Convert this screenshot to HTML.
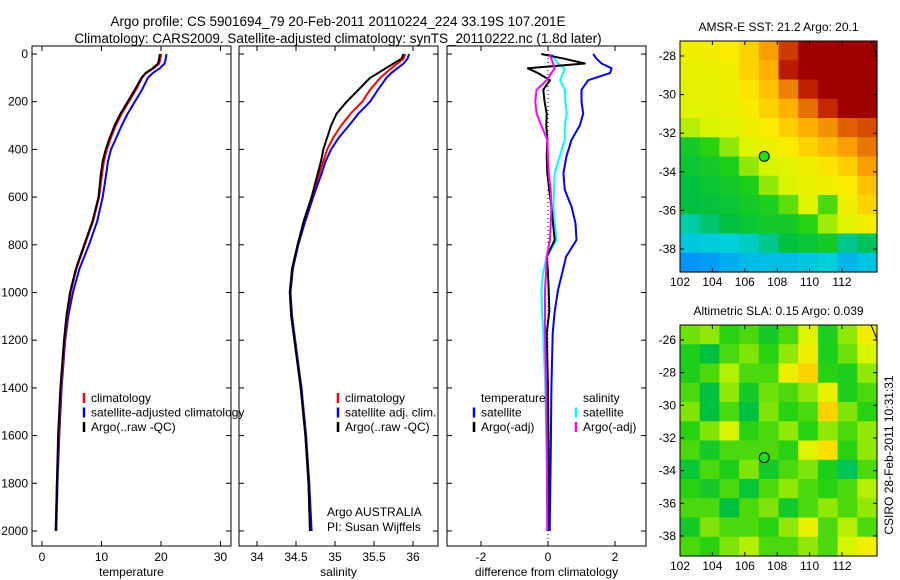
<!DOCTYPE html>
<html><head><meta charset="utf-8"><style>
body{margin:0;background:#fff}
svg{display:block;font-family:"Liberation Sans",sans-serif;font-size:12px}
</style></head><body>
<svg id="s" width="900" height="580"></svg>
<script>
const depths=[0,20,40,60,80,100,150,200,250,300,350,400,450,500,600,700,800,900,1000,1100,1200,1300,1400,1600,1800,2000];
const tempClim=[20.0,19.9,19.7,18.8,17.5,16.8,15.8,14.6,13.4,12.4,11.6,10.9,10.4,10.1,9.6,8.6,7.2,5.8,4.8,4.2,3.8,3.5,3.2,2.8,2.5,2.3];
const tempSat=[20.9,20.8,20.6,19.8,18.6,17.8,16.8,15.6,14.4,13.4,12.5,11.6,11.1,10.8,10.2,9.3,7.9,6.3,5.2,4.4,3.9,3.6,3.3,2.9,2.6,2.4];
const tempArgo=[19.8,19.7,19.5,18.6,17.4,16.7,15.6,14.4,13.2,12.2,11.4,10.7,10.2,9.9,9.5,8.5,7.1,5.7,4.7,4.1,3.7,3.4,3.1,2.7,2.5,2.3];
const salClim=[35.9,35.88,35.8,35.72,35.65,35.58,35.45,35.35,35.2,35.08,34.98,34.9,34.85,34.8,34.7,34.6,34.52,34.45,34.42,34.44,34.48,34.52,34.56,34.62,34.66,34.68];
const salSat=[35.95,35.93,35.88,35.8,35.72,35.66,35.55,35.45,35.3,35.18,35.05,34.95,34.88,34.83,34.72,34.62,34.53,34.46,34.43,34.45,34.49,34.53,34.57,34.63,34.67,34.7];
const salArgo=[35.88,35.85,35.75,35.65,35.55,35.45,35.3,35.15,35.02,34.95,34.9,34.85,34.82,34.78,34.7,34.6,34.52,34.45,34.42,34.44,34.48,34.52,34.56,34.62,34.66,34.68];
const depths3=[0,20,40,60,80,110,150,200,250,300,360,430,500,570,640,710,780,850,920,990,1080,1170,1400,1700,2000];
const diffTempSat=[1.35,1.45,1.6,1.9,1.85,1.2,1.0,1.0,1.05,0.95,0.7,0.55,0.46,0.5,0.7,0.82,0.85,0.54,0.42,0.3,0.2,0.14,0.1,0.08,0.05];
const diffTempArgo=[-0.2,0.5,1.1,-0.6,-0.3,0.06,-0.14,-0.1,-0.04,-0.05,-0.02,-0.04,-0.02,0.04,0.1,0.15,0.2,-0.04,0.0,0.02,0.04,-0.04,0.0,0.02,0.0];
const diffSalArgo=[0.05,0.1,0.15,0.2,0.1,-0.04,-0.34,-0.38,-0.34,-0.2,-0.02,0.0,0.02,0.08,0.1,0.08,0.06,-0.04,-0.06,-0.09,-0.09,-0.09,-0.05,-0.03,-0.02];
const diffSalSat=[0.1,0.2,0.3,0.5,0.45,0.36,0.5,0.52,0.56,0.5,0.5,0.35,0.2,0.18,0.16,0.2,0.26,-0.04,-0.15,-0.19,-0.18,-0.14,-0.08,-0.04,-0.02];
const depthTicks=[0,200,400,600,800,1000,1200,1400,1600,1800,2000];
const tempTicks=[0,10,20,30];
const salTicks=[34,34.5,35,35.5,36];
const salTickLabels=["34","34.5","35","35.5","36"];
const diffTicks=[-2,0,2];
const lonTicks=[102,104,106,108,110,112];
const sstLats=[-28,-30,-32,-34,-36,-38];
const slaLats=[-26,-28,-30,-32,-34,-36,-38];
const sstGrid=[
[.66,.66,.68,.72,.8,.92,1,1,1,1],
[.64,.64,.66,.72,.78,.96,1,1,1,1],
[.63,.63,.65,.69,.75,.84,.95,1,1,1],
[.62,.63,.64,.67,.72,.78,.86,.94,1,1],
[.58,.6,.62,.65,.68,.73,.78,.82,.88,.9],
[.46,.5,.56,.62,.65,.68,.72,.76,.8,.85],
[.44,.46,.48,.56,.6,.62,.66,.69,.73,.8],
[.42,.44,.46,.48,.56,.6,.64,.66,.68,.75],
[.42,.43,.44,.46,.48,.53,.62,.52,.66,.72],
[.34,.38,.42,.44,.46,.46,.5,.57,.62,.66],
[.28,.29,.3,.32,.36,.42,.44,.46,.36,.4],
[.16,.18,.22,.25,.26,.26,.28,.3,.24,.27]];
const slaGrid=[
[.54,.56,.5,.52,.46,.52,.62,.48,.56,.66],
[.48,.42,.52,.55,.5,.56,.66,.48,.54,.6],
[.48,.52,.58,.52,.52,.64,.72,.5,.48,.56],
[.52,.42,.56,.46,.54,.52,.56,.64,.48,.52],
[.55,.42,.52,.42,.55,.5,.52,.72,.55,.5],
[.5,.55,.6,.5,.52,.56,.5,.56,.52,.56],
[.52,.46,.52,.52,.52,.5,.62,.7,.5,.56],
[.44,.52,.48,.55,.46,.52,.55,.48,.4,.52],
[.5,.46,.52,.44,.52,.56,.52,.5,.52,.58],
[.52,.52,.42,.52,.55,.46,.52,.56,.52,.56],
[.46,.55,.52,.52,.5,.56,.64,.52,.58,.52],
[.52,.5,.55,.58,.52,.52,.56,.52,.6,.66]];
const floatLon=107.2, floatLat=-33.2;

const NS="http://www.w3.org/2000/svg", S=document.getElementById('s');
function el(t,a,p){const e=document.createElementNS(NS,t);for(const k in a)e.setAttribute(k,a[k]);(p||S).appendChild(e);return e;}
function txt(x,y,s,anchor,p){const e=el('text',{x:x,y:y,'text-anchor':anchor||'start',fill:'#000'},p);e.textContent=s;return e;}
const yD=d=>54+d*0.2385;
const panels=[
 {x0:32,x1:231,sx:v=>42+v*5.95,ticks:tempTicks,labels:tempTicks.map(String),title:'temperature',name:'temperature-panel'},
 {x0:239,x1:438,sx:v=>257+(v-34)*78,ticks:salTicks,labels:salTickLabels,title:'salinity',name:'salinity-panel'},
 {x0:447,x1:646,sx:v=>548+v*33.5,ticks:diffTicks,labels:diffTicks.map(String),title:'difference from climatology',name:'difference-panel'}];
panels.forEach((p,i)=>{
 const g=el('g',{});
 
 
 el('rect',{x:p.x0,y:46,width:p.x1-p.x0,height:500,fill:'none',stroke:'#000'},g);
 p.ticks.forEach((t,j)=>{const x=p.sx(t);
  el('line',{x1:x,x2:x,y1:546,y2:541,stroke:'#000'},g);el('line',{x1:x,x2:x,y1:46,y2:51,stroke:'#000'},g);
  txt(x,561,p.labels[j],'middle',g);});
 depthTicks.forEach(d=>{const y=yD(d);
  el('line',{x1:p.x0,x2:p.x0+5,y1:y,y2:y,stroke:'#000'},g);el('line',{x1:p.x1,x2:p.x1-5,y1:y,y2:y,stroke:'#000'},g);
  if(i==0)txt(28,y+4,String(d),'end',g);});
 const t=txt((p.x0+p.x1)/2,576,p.title,'middle',g);
 
});
function line(xs,ys,sx,sy,col,name,w){
 const pts=xs.map((v,k)=>sx(v).toFixed(1)+','+sy(ys[k]).toFixed(1)).join(' ');
 const e=el('polyline',{points:pts,fill:'none',stroke:col,'stroke-width':w||2,'stroke-linejoin':'round'});
 
 
}
line(tempSat,depths,panels[0].sx,yD,'#00f','temp-satellite-line');
line(tempClim,depths,panels[0].sx,yD,'#f00','temp-climatology-line');
line(tempArgo,depths,panels[0].sx,yD,'#000','temp-argo-line');
line(salSat,depths,panels[1].sx,yD,'#00f','sal-satellite-line');
line(salClim,depths,panels[1].sx,yD,'#f00','sal-climatology-line');
line(salArgo,depths,panels[1].sx,yD,'#000','sal-argo-line');
el('line',{x1:548,x2:548,y1:46,y2:546,stroke:'#000','stroke-dasharray':'1,3'});
line(diffTempSat,depths3,panels[2].sx,yD,'#00f','diff-temp-satellite-line');
line(diffSalSat,depths3,panels[2].sx,yD,'#0ff','diff-sal-satellite-line');
line(diffTempArgo,depths3,panels[2].sx,yD,'#000','diff-temp-argo-line');
line(diffSalArgo,depths3,panels[2].sx,yD,'#f0f','diff-sal-argo-line');

function legend(x,y,items,name){
 const g=el('g',{});
 items.forEach((it,k)=>{const yy=y+k*14.5;
  if(it[1])el('line',{x1:x,x2:x,y1:yy-9,y2:yy+1,stroke:it[1],'stroke-width':2.5},g);
  txt(x+7,yy,it[0],'start',g);});
}
legend(84,402,[['climatology','#f00'],['satellite-adjusted climatology','#00f'],['Argo(..raw -QC)','#000']],'temperature-legend');
legend(338,402,[['climatology','#f00'],['satellite adj. clim.','#00f'],['Argo(..raw -QC)','#000']],'salinity-legend');
legend(474,402,[['temperature',null],['satellite','#00f'],['Argo(-adj)','#000']],'diff-temperature-legend');
legend(576,402,[['salinity',null],['satellite','#0ff'],['Argo(-adj)','#f0f']],'diff-salinity-legend');
txt(327,516,'Argo AUSTRALIA');
txt(327,531,'PI: Susan Wijffels');
const t1=txt(338,26,'Argo profile: CS 5901694_79 20-Feb-2011 20110224_224 33.19S 107.201E','middle');t1.setAttribute('font-size','13.5');
const t2=txt(338,43,'Climatology: CARS2009. Satellite-adjusted climatology: synTS_20110222.nc (1.8d later)','middle');t2.setAttribute('font-size','13.5');

const cmStops=[[0,[0,48,208]],[0.15,[0,144,255]],[0.3,[0,208,216]],[0.42,[0,192,64]],[0.5,[40,210,16]],[0.6,[215,245,0]],[0.68,[250,235,0]],[0.78,[255,176,0]],[0.88,[224,96,0]],[0.95,[192,32,0]],[1,[160,0,0]]];
function cmap(v){v=Math.max(0,Math.min(1,v));
 for(let i=1;i<cmStops.length;i++){if(v<=cmStops[i][0]){const a=cmStops[i-1],b=cmStops[i],f=(v-a[0])/(b[0]-a[0]);
  return 'rgb('+a[1].map((c,k)=>Math.round(c+(b[1][k]-c)*f)).join(',')+')';}}
 return 'rgb(160,0,0)';}
function map(m){
 const g=el('g',{});
 const W=m.x1-m.x0,H=m.y1-m.y0,rows=m.grid.length,cols=m.grid[0].length;
 const gx=v=>m.x0+(v-m.lon0)*m.kx, gy=v=>m.latY0+(m.lat0-v)*m.ky;
 m.grid.forEach((row,r)=>row.forEach((v,c)=>{
  el('rect',{x:m.x0+c*W/cols,y:m.y0+r*H/rows,width:W/cols+0.6,height:H/rows+0.6,fill:cmap(v)},g);}));
 el('line',{x1:m.x1-6,y1:m.y0,x2:m.x1,y2:m.y0+14,stroke:'#000'},g);
 el('rect',{x:m.x0,y:m.y0,width:W,height:H,fill:'none',stroke:'#000'},g);
 lonTicks.forEach(l=>{const x=gx(l);el('line',{x1:x,x2:x,y1:m.y1,y2:m.y1-4,stroke:'#000'},g);el('line',{x1:x,x2:x,y1:m.y0,y2:m.y0+4,stroke:'#000'},g);txt(x,m.y1+14,String(l),'middle',g);});
 m.lats.forEach(l=>{const y=gy(l);el('line',{x1:m.x0,x2:m.x0+4,y1:y,y2:y,stroke:'#000'},g);el('line',{x1:m.x1,x2:m.x1-4,y1:y,y2:y,stroke:'#000'},g);txt(m.x0-4,y+4,String(l),'end',g);});
 const c=el('circle',{cx:gx(floatLon),cy:gy(floatLat),r:5,fill:'#2d2',stroke:'#000'},g);
 
 
 const t=txt((m.x0+m.x1)/2,m.y0-10,m.title,'middle',g);
}
map({name:'sst-map',x0:680,x1:877,y0:41,y1:272,grid:sstGrid,lon0:102,kx:16.2,lat0:-28,latY0:56,ky:19.3,lats:sstLats,title:'AMSR-E SST: 21.2 Argo: 20.1'});
map({name:'sla-map',x0:680,x1:877,y0:325,y1:556,grid:slaGrid,lon0:102,kx:16.2,lat0:-26,latY0:340,ky:16.33,lats:slaLats,title:'Altimetric SLA: 0.15 Argo: 0.039'});
const st=txt(0,0,'CSIRO 28-Feb-2011 10:31:31','middle');st.setAttribute('transform','translate(893,455) rotate(-90)');
</script>
</body></html>
